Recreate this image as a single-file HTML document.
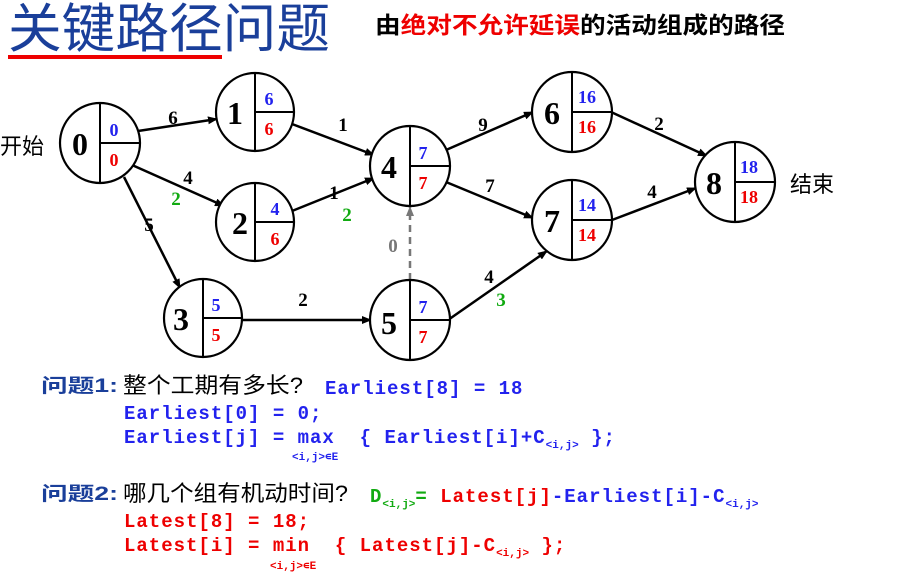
<!DOCTYPE html>
<html><head><meta charset="utf-8"><style>
body{margin:0;background:#fff;width:909px;height:580px;overflow:hidden}
svg{display:block}
.n{font-family:"Liberation Serif",serif;font-weight:bold;font-size:32px}
.v{font-family:"Liberation Serif",serif;font-weight:bold;font-size:18px}
.e{font-family:"Liberation Serif",serif;font-weight:bold;font-size:19px}
.cj{font-family:"Liberation Sans","Noto Sans CJK SC",sans-serif}
.m{font-family:"Liberation Mono",monospace;font-weight:bold;font-size:19px;letter-spacing:1px;white-space:pre}
.s{font-family:"Liberation Mono",monospace;font-weight:bold;font-size:11px;letter-spacing:0}
</style></head><body>
<svg width="909" height="580" viewBox="0 0 909 580">
<defs><marker id="a" markerWidth="10" markerHeight="8" refX="9" refY="4" orient="auto" markerUnits="userSpaceOnUse"><path d="M0,0 L10,4 L0,8 z" fill="#000"/></marker>
<marker id="g" markerWidth="10" markerHeight="8" refX="9" refY="4" orient="auto" markerUnits="userSpaceOnUse"><path d="M0,0 L10,4 L0,8 z" fill="#777"/></marker></defs>
<text x="8" y="47" class="cj" font-size="53" fill="#1a3f9a" textLength="322" lengthAdjust="spacingAndGlyphs">关键路径问题</text>
<line x1="8" y1="57" x2="222" y2="57" stroke="#e00" stroke-width="4"/>
<text x="375" y="33" class="cj" font-size="23" fill="#000" font-weight="bold" textLength="410" lengthAdjust="spacingAndGlyphs">由<tspan fill="#e00">绝对不允许延误</tspan>的活动组成的路径</text>
<text x="0" y="154" class="cj" font-size="22">开始</text>
<text x="790" y="192" class="cj" font-size="22">结束</text>
<g stroke="#000" stroke-width="2.5" fill="none" marker-end="url(#a)">
<line x1="138" y1="131" x2="217" y2="119"/>
<line x1="132" y1="165" x2="224" y2="206"/>
<line x1="124" y1="177" x2="180" y2="288"/>
<line x1="292" y1="124" x2="374" y2="155"/>
<line x1="292" y1="211" x2="374" y2="178"/>
<line x1="242" y1="320" x2="371" y2="320"/>
<line x1="446" y1="150" x2="533" y2="112"/>
<line x1="446" y1="182" x2="533" y2="218"/>
<line x1="448" y1="320" x2="547" y2="251"/>
<line x1="611" y1="112" x2="707" y2="156"/>
<line x1="612" y1="220" x2="696" y2="188"/>
</g>
<line x1="410" y1="280" x2="410" y2="207" stroke="#777" stroke-width="2.5" stroke-dasharray="7,5" marker-end="url(#g)"/>
<g stroke="#000" stroke-width="2.2" fill="#fff">
<circle cx="100" cy="143" r="40"/><circle cx="255" cy="112" r="39"/><circle cx="255" cy="222" r="39"/>
<circle cx="203" cy="318" r="39"/><circle cx="410" cy="166" r="40"/><circle cx="410" cy="320" r="40"/>
<circle cx="572" cy="112" r="40"/><circle cx="572" cy="220" r="40"/><circle cx="735" cy="182" r="40"/>
</g>
<g stroke="#000" stroke-width="2">
<path d="M100 103V183M100 143H140"/><path d="M255 73V151M255 112H294"/><path d="M255 183V261M255 222H294"/>
<path d="M203 279V357M203 318H242"/><path d="M410 126V206M410 166H450"/><path d="M410 280V360M410 320H450"/>
<path d="M572 72V152M572 112H612"/><path d="M572 180V260M572 220H612"/><path d="M735 142V222M735 182H775"/>
</g>
<g class="n" text-anchor="middle">
<text x="80" y="155">0</text><text x="235" y="124">1</text><text x="240" y="234">2</text><text x="181" y="330">3</text>
<text x="389" y="178">4</text><text x="389" y="334">5</text><text x="552" y="124">6</text><text x="552" y="232">7</text><text x="714" y="194">8</text>
</g>
<g class="v" text-anchor="middle">
<text x="114" y="136" fill="#22e">0</text><text x="114" y="166" fill="#e00">0</text>
<text x="269" y="105" fill="#22e">6</text><text x="269" y="135" fill="#e00">6</text>
<text x="275" y="215" fill="#22e">4</text><text x="275" y="245" fill="#e00">6</text>
<text x="216" y="311" fill="#22e">5</text><text x="216" y="341" fill="#e00">5</text>
<text x="423" y="159" fill="#22e">7</text><text x="423" y="189" fill="#e00">7</text>
<text x="423" y="313" fill="#22e">7</text><text x="423" y="343" fill="#e00">7</text>
<text x="587" y="103" fill="#22e">16</text><text x="587" y="133" fill="#e00">16</text>
<text x="587" y="211" fill="#22e">14</text><text x="587" y="241" fill="#e00">14</text>
<text x="749" y="173" fill="#22e">18</text><text x="749" y="203" fill="#e00">18</text>
</g>
<g class="e" text-anchor="middle">
<text x="173" y="124">6</text><text x="188" y="184">4</text><text x="176" y="205" fill="#1a1">2</text><text x="149" y="231">5</text>
<text x="343" y="131">1</text><text x="334" y="199">1</text><text x="347" y="221" fill="#1a1">2</text><text x="393" y="252" fill="#777">0</text>
<text x="303" y="306">2</text><text x="483" y="131">9</text><text x="490" y="192">7</text><text x="489" y="283">4</text>
<text x="501" y="306" fill="#1a1">3</text><text x="659" y="130">2</text><text x="652" y="198">4</text>
</g>
<text x="41" y="392" class="cj" font-size="19" font-weight="bold" fill="#1a3f9a" textLength="77" lengthAdjust="spacingAndGlyphs">问题1:</text>
<text x="123" y="393" class="cj" font-size="22" textLength="180" lengthAdjust="spacingAndGlyphs">整个工期有多长?</text>
<text x="325" y="394" class="m" fill="#22e">Earliest[8] = 18</text>
<text x="124" y="419" class="m" fill="#22e">Earliest[0] = 0;</text>
<text x="124" y="443" class="m" fill="#22e">Earliest[j] = max  { Earliest[i]+C<tspan class="s" dy="5">&lt;i,j&gt;</tspan><tspan dy="-5"> };</tspan></text>
<text x="292" y="460" class="s" fill="#22e" font-size="8">&lt;i,j&gt;∊E</text>
<text x="41" y="500" class="cj" font-size="19" font-weight="bold" fill="#1a3f9a" textLength="77" lengthAdjust="spacingAndGlyphs">问题2:</text>
<text x="123" y="501" class="cj" font-size="22" textLength="225" lengthAdjust="spacingAndGlyphs">哪几个组有机动时间?</text>
<text x="370" y="502" class="m" fill="#1a1">D<tspan class="s" dy="5">&lt;i,j&gt;</tspan><tspan dy="-5">=</tspan><tspan fill="#e00"> Latest[j]</tspan><tspan fill="#22e">-Earliest[i]-C</tspan><tspan class="s" dy="5" fill="#22e">&lt;i,j&gt;</tspan></text>
<text x="124" y="527" class="m" fill="#e00">Latest[8] = 18;</text>
<text x="124" y="551" class="m" fill="#e00">Latest[i] = min  { Latest[j]-C<tspan class="s" dy="5">&lt;i,j&gt;</tspan><tspan dy="-5"> };</tspan></text>
<text x="270" y="569" class="s" fill="#e00" font-size="8">&lt;i,j&gt;∊E</text>
</svg>
</body></html>
